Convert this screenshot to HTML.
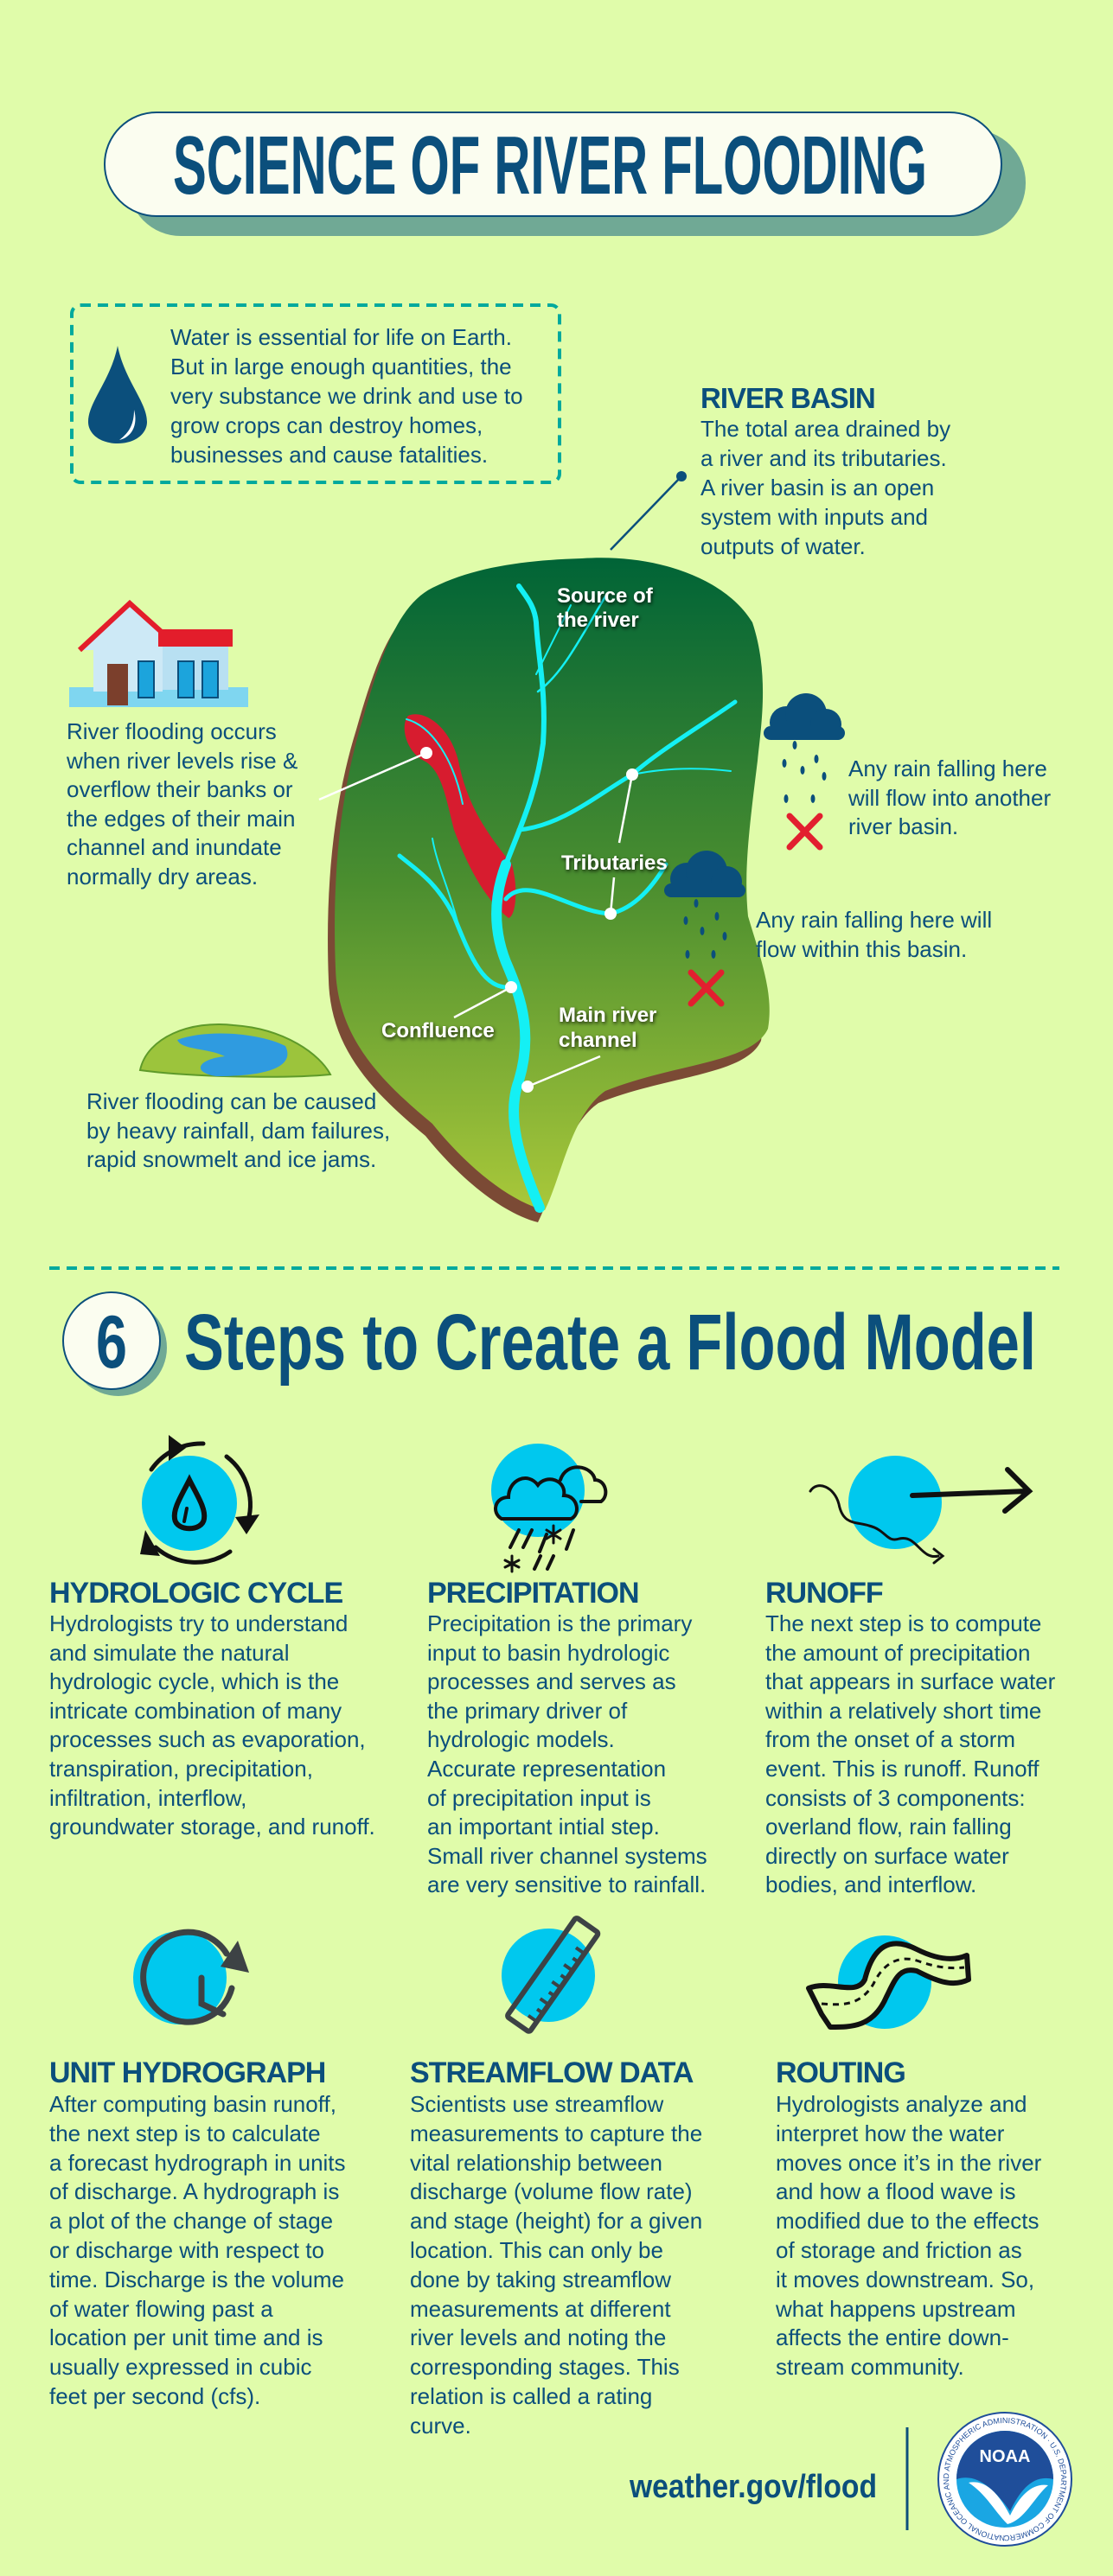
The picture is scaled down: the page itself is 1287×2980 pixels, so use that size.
<!DOCTYPE html>
<html><head><meta charset="utf-8"><style>
html,body{margin:0;padding:0;background:#e0fcaa;}
svg{display:block}
.b{font-family:"Liberation Sans",sans-serif;font-size:26px;fill:#0b4f7c}
.h{font-family:"Liberation Sans",sans-serif;font-size:34px;font-weight:bold;fill:#0b4f7c;letter-spacing:-1px}
.w{font-family:"Liberation Sans",sans-serif;font-size:24px;font-weight:bold;fill:#fff}
</style></head><body>
<svg width="1287" height="2980" viewBox="0 0 1287 2980" xmlns="http://www.w3.org/2000/svg">
<defs>
<linearGradient id="g" x1="0" y1="0" x2="0" y2="1"><stop offset="0" stop-color="#006437"/><stop offset="0.5" stop-color="#4b8e2f"/><stop offset="1" stop-color="#a9c83a"/></linearGradient>
<filter id="sh"><feDropShadow dx="1" dy="2" stdDeviation="2" flood-color="#000" flood-opacity="0.8"/></filter>
</defs>
<rect width="1287" height="2980" fill="#e0fcaa"/>
<!-- title -->
<rect x="148" y="150" width="1038" height="123" rx="61" fill="#70a995"/>
<rect x="121" y="130" width="1037" height="120" rx="60" fill="#fbfdf0" stroke="#0b4f7c" stroke-width="2"/>
<text x="200" y="224" font-family="Liberation Sans" font-weight="bold" font-size="96" fill="#0b4f7c" textLength="872" lengthAdjust="spacingAndGlyphs">SCIENCE OF RIVER FLOODING</text>
<!-- water box -->
<rect x="83" y="353" width="564" height="205" rx="10" fill="none" stroke="#00a99d" stroke-width="4" stroke-dasharray="12 8"/>
<path d="M136,400 C128,440 102,465 102,488 C102,502 116,513 136,513 C156,513 170,502 170,488 C170,465 144,440 136,400Z" fill="#0b4f7c"/>
<path d="M155,474 C160,492 152,506 138,509 C150,500 155,490 155,474Z" fill="#fff"/>
<text class="b" x="197" y="399">Water is essential for life on Earth.</text>
<text class="b" x="197" y="433">But in large enough quantities, the</text>
<text class="b" x="197" y="467">very substance we drink and use to</text>
<text class="b" x="197" y="501">grow crops can destroy homes,</text>
<text class="b" x="197" y="535">businesses and cause fatalities.</text>
<!-- river basin -->
<text class="h" x="810" y="472" style="font-size:33px">RIVER BASIN</text>
<text class="b" x="810" y="505">The total area drained by</text>
<text class="b" x="810" y="539">a river and its tributaries.</text>
<text class="b" x="810" y="573">A river basin is an open</text>
<text class="b" x="810" y="607">system with inputs and</text>
<text class="b" x="810" y="641">outputs of water.</text>
<line x1="788" y1="551" x2="706" y2="636" stroke="#0b4f7c" stroke-width="2.5"/>
<circle cx="788" cy="551" r="6" fill="#0b4f7c"/>
<!-- basin -->
<g>
<path transform="translate(-8,14)" d="M673,646 C760,640 840,670 870,720 C890,780 880,840 876,880 C866,960 860,1010 865,1060 C880,1110 895,1150 888,1190 C870,1230 780,1230 700,1262 C660,1290 650,1360 630,1400 C590,1390 540,1350 500,1300 C440,1250 390,1200 388,1120 C384,1020 392,920 420,830 C440,760 460,700 500,680 C550,655 610,648 673,646 Z" fill="#7b4a35"/>
<path d="M673,646 C760,640 840,670 870,720 C890,780 880,840 876,880 C866,960 860,1010 865,1060 C880,1110 895,1150 888,1190 C870,1230 780,1230 700,1262 C660,1290 650,1360 630,1400 C590,1390 540,1350 500,1300 C440,1250 390,1200 388,1120 C384,1020 392,920 420,830 C440,760 460,700 500,680 C550,655 610,648 673,646 Z" fill="url(#g)"/>
<path d="M472,828 C490,820 520,840 530,880 C540,930 560,960 592,1000 C600,1030 596,1060 588,1062 C560,1040 540,1000 525,960 C515,920 510,890 490,880 C470,870 462,840 472,828 Z" fill="#d71c2f"/>
<g fill="none" stroke="#14f0f4" stroke-linecap="round">
<path d="M624,1397 C600,1340 585,1290 600,1250 C615,1200 605,1160 588,1120 C570,1080 570,1040 585,1000" stroke-width="12"/>
<path d="M585,1000 C600,960 620,920 628,860 C632,800 622,760 620,720 C618,700 608,690 600,678" stroke-width="6"/>
<path d="M600,960 C650,955 690,920 731,896 C760,870 810,840 850,812" stroke-width="5"/>
<path d="M731,896 C770,888 810,888 845,892" stroke-width="2"/>
<path d="M622,800 C650,780 670,740 700,690" stroke-width="2.5"/>
<path d="M620,780 C640,740 650,720 660,700" stroke-width="2"/>
<path d="M585,1040 C610,1010 660,1055 706,1057 C735,1050 755,1025 770,1000" stroke-width="5"/>
<path d="M591,1142 C560,1145 545,1110 525,1060 C505,1020 480,1005 462,990" stroke-width="5"/>
<path d="M530,1070 C520,1030 505,1000 500,970" stroke-width="2"/>
<path d="M470,832 C500,840 525,880 535,930" stroke-width="2"/>
</g>
<g stroke="#fff" stroke-width="2.5"><line x1="493" y1="871" x2="369" y2="925"/><line x1="731" y1="896" x2="716" y2="975"/><line x1="710" y1="1015" x2="706" y2="1057"/><line x1="591" y1="1142" x2="525" y2="1177"/><line x1="610" y1="1257" x2="694" y2="1222"/></g>
<g fill="#fff"><circle cx="493" cy="871" r="7"/><circle cx="731" cy="896" r="7"/><circle cx="706" cy="1057" r="7"/><circle cx="591" cy="1142" r="7"/><circle cx="610" cy="1257" r="7"/></g>
<g filter="url(#sh)">
<text class="w" x="644" y="697">Source of</text><text class="w" x="644" y="725">the river</text>
<text class="w" x="649" y="1006">Tributaries</text>
<text class="w" x="441" y="1200">Confluence</text>
<text class="w" x="646" y="1182">Main river</text><text class="w" x="646" y="1211">channel</text>
</g>
</g>
<!-- house -->
<rect x="80" y="795" width="207" height="23" fill="#7fd6f0"/>
<rect x="108" y="740" width="80" height="60" fill="#cde9f6"/>
<path d="M92,752 L150,698 L210,752" fill="#cde9f6" stroke="#e31d2b" stroke-width="6"/>
<rect x="183" y="728" width="86" height="20" fill="#e31d2b"/>
<rect x="188" y="748" width="76" height="50" fill="#b8e0f2"/>
<rect x="124" y="768" width="24" height="48" fill="#7b3f2c"/>
<rect x="160" y="765" width="18" height="42" fill="#1ca4dc" stroke="#0b4f7c" stroke-width="2"/>
<rect x="206" y="765" width="18" height="42" fill="#1ca4dc" stroke="#0b4f7c" stroke-width="2"/>
<rect x="234" y="765" width="18" height="42" fill="#1ca4dc" stroke="#0b4f7c" stroke-width="2"/>
<text class="b" x="77" y="855">River flooding occurs</text>
<text class="b" x="77" y="889">when river levels rise &amp;</text>
<text class="b" x="77" y="922">overflow their banks or</text>
<text class="b" x="77" y="956">the edges of their main</text>
<text class="b" x="77" y="989">channel and inundate</text>
<text class="b" x="77" y="1023">normally dry areas.</text>
<!-- clouds -->
<g fill="#0b4f7c">
<circle cx="909" cy="836" r="19"/><circle cx="932" cy="826" r="24"/><circle cx="955" cy="838" r="18"/><rect x="883" y="840" width="94" height="16" rx="8"/>
<circle cx="794" cy="1017" r="19"/><circle cx="817" cy="1008" r="24"/><circle cx="840" cy="1020" r="18"/><rect x="768" y="1022" width="94" height="16" rx="8"/>
</g>
<g fill="#0b4f7c">
<ellipse cx="919" cy="862" rx="2.5" ry="5"/><ellipse cx="907" cy="883" rx="2.5" ry="5"/><ellipse cx="928" cy="891" rx="2.5" ry="5"/><ellipse cx="944" cy="878" rx="2.5" ry="5"/><ellipse cx="953" cy="898" rx="2.5" ry="5"/><ellipse cx="909" cy="924" rx="2.5" ry="5"/><ellipse cx="940" cy="924" rx="2.5" ry="5"/>
<ellipse cx="805" cy="1045" rx="2.5" ry="5"/><ellipse cx="793" cy="1065" rx="2.5" ry="5"/><ellipse cx="812" cy="1077" rx="2.5" ry="5"/><ellipse cx="829" cy="1060" rx="2.5" ry="5"/><ellipse cx="838" cy="1083" rx="2.5" ry="5"/><ellipse cx="795" cy="1104" rx="2.5" ry="5"/><ellipse cx="825" cy="1104" rx="2.5" ry="5"/>
</g>
<g stroke="#e21f2f" stroke-width="7" stroke-linecap="round"><path d="M913,944 L948,980 M948,944 L913,980"/><path d="M799,1125 L834,1161 M834,1125 L799,1161"/></g>
<text class="b" x="981" y="898">Any rain falling here</text>
<text class="b" x="981" y="932">will flow into another</text>
<text class="b" x="981" y="965">river basin.</text>
<text class="b" x="874" y="1073">Any rain falling here will</text>
<text class="b" x="874" y="1107">flow within this basin.</text>
<!-- lake -->
<path d="M162,1238 C170,1200 220,1180 270,1186 C330,1190 370,1220 382,1243 C330,1248 220,1246 162,1238Z" fill="#9cc43c" stroke="#5e9a2a" stroke-width="2"/>
<path d="M205,1203 C240,1190 300,1195 330,1210 C340,1230 320,1245 250,1245 C220,1240 230,1225 260,1222 C240,1212 210,1215 205,1203Z" fill="#2f9be0"/>
<text class="b" x="100" y="1283">River flooding can be caused</text>
<text class="b" x="100" y="1317">by heavy rainfall, dam failures,</text>
<text class="b" x="100" y="1350">rapid snowmelt and ice jams.</text>
<!-- divider -->
<line x1="57" y1="1467" x2="1225" y2="1467" stroke="#00a99d" stroke-width="4" stroke-dasharray="12 8"/>
<circle cx="137" cy="1559" r="56" fill="#70a995"/>
<circle cx="129" cy="1551" r="56" fill="#fbfdf0" stroke="#0b4f7c" stroke-width="2"/>
<text x="129" y="1582" text-anchor="middle" font-family="Liberation Sans" font-weight="bold" font-size="86" fill="#0b4f7c" textLength="36" lengthAdjust="spacingAndGlyphs">6</text>
<text x="213" y="1584" font-family="Liberation Sans" font-weight="bold" font-size="92" fill="#0b4f7c" textLength="985" lengthAdjust="spacingAndGlyphs">Steps to Create a Flood Model</text>
<!-- icons row1 -->
<circle cx="219" cy="1739" r="55" fill="#00c8ee"/>
<g fill="none" stroke="#111" stroke-width="5" stroke-linecap="round">
<path d="M219,1712 C210,1730 200,1745 202,1757 C204,1772 234,1772 236,1757 C238,1745 228,1730 219,1712Z" stroke-width="6"/>
<path d="M216,1745 L213,1760" stroke-width="4"/>
<path d="M175,1700 A70,70 0 0 1 235,1670"/><path d="M262,1685 A70,70 0 0 1 285,1765"/><path d="M266,1795 A70,70 0 0 1 180,1790"/>
</g>
<g fill="#111"><path d="M195,1660 L215,1675 L195,1690Z"/><path d="M272,1755 L300,1752 L285,1775Z"/><path d="M168,1770 L185,1800 L162,1798Z"/></g>
<circle cx="622" cy="1724" r="54" fill="#00c8ee"/>
<g fill="none" stroke="#111" stroke-width="4" stroke-linecap="round">
<path d="M580,1757 C568,1750 572,1732 588,1732 C588,1712 610,1702 622,1718 C632,1705 655,1712 652,1730 C668,1730 672,1752 660,1757 Z"/>
<path d="M648,1712 C655,1690 685,1695 688,1712 C700,1712 705,1730 695,1737 L672,1737"/>
<path d="M600,1770 L590,1790 M615,1770 L605,1790 M632,1775 L624,1795 M663,1770 L655,1792 M625,1800 L618,1815 M640,1800 L633,1815"/>
<path d="M640,1765 L640,1785 M632,1770 L648,1780 M648,1770 L632,1780 M592,1800 L592,1818 M584,1805 L600,1813 M600,1805 L584,1813" stroke-width="3"/>
</g>
<circle cx="1035" cy="1738" r="54" fill="#00c8ee"/>
<g fill="none" stroke="#111" stroke-linecap="round">
<path d="M937,1725 C945,1712 965,1720 970,1740 C975,1765 990,1760 1005,1765 C1025,1770 1025,1785 1040,1780 C1060,1775 1065,1805 1085,1800" stroke-width="3"/>
<path d="M1055,1730 L1188,1725 M1165,1700 L1190,1725 L1162,1748" stroke-width="6"/>
<path d="M1080,1792 L1090,1800 L1080,1808" stroke-width="3"/>
</g>
<text class="h" x="57" y="1854">HYDROLOGIC CYCLE</text>
<text class="h" x="494" y="1854">PRECIPITATION</text>
<text class="h" x="885" y="1854">RUNOFF</text>
<text class="b" x="57" y="1887">Hydrologists try to understand</text>
<text class="b" x="57" y="1921">and simulate the natural</text>
<text class="b" x="57" y="1954">hydrologic cycle, which is the</text>
<text class="b" x="57" y="1988">intricate combination of many</text>
<text class="b" x="57" y="2021">processes such as evaporation,</text>
<text class="b" x="57" y="2055">transpiration, precipitation,</text>
<text class="b" x="57" y="2089">infiltration, interflow,</text>
<text class="b" x="57" y="2122">groundwater storage, and runoff.</text>
<text class="b" x="494" y="1887">Precipitation is the primary</text>
<text class="b" x="494" y="1921">input to basin hydrologic</text>
<text class="b" x="494" y="1954">processes and serves as</text>
<text class="b" x="494" y="1988">the primary driver of</text>
<text class="b" x="494" y="2021">hydrologic models.</text>
<text class="b" x="494" y="2055">Accurate representation</text>
<text class="b" x="494" y="2089">of precipitation input is</text>
<text class="b" x="494" y="2122">an important intial step.</text>
<text class="b" x="494" y="2156">Small river channel systems</text>
<text class="b" x="494" y="2189">are very sensitive to rainfall.</text>
<text class="b" x="885" y="1887">The next step is to compute</text>
<text class="b" x="885" y="1921">the amount of precipitation</text>
<text class="b" x="885" y="1954">that appears in surface water</text>
<text class="b" x="885" y="1988">within a relatively short time</text>
<text class="b" x="885" y="2021">from the onset of a storm</text>
<text class="b" x="885" y="2055">event. This is runoff. Runoff</text>
<text class="b" x="885" y="2089">consists of 3 components:</text>
<text class="b" x="885" y="2122">overland flow, rain falling</text>
<text class="b" x="885" y="2156">directly on surface water</text>
<text class="b" x="885" y="2189">bodies, and interflow.</text>
<!-- icons row2 -->
<circle cx="208" cy="2288" r="54" fill="#00c8ee"/>
<g fill="none" stroke="#3d4245" stroke-width="7" stroke-linecap="round">
<path d="M268,2300 A52,52 0 1 1 262,2260"/>
<path d="M233,2288 L233,2318 L258,2330"/>
</g>
<path d="M275,2245 L288,2282 L255,2275Z" fill="#3d4245"/>
<circle cx="634" cy="2285" r="54" fill="#00c8ee"/>
<g transform="rotate(-55 640 2285)" fill="none" stroke="#3d4245" stroke-width="6">
<rect x="570" y="2268" width="140" height="32" rx="3"/>
<path d="M585,2300 L585,2288 M597,2300 L597,2292 M609,2300 L609,2288 M621,2300 L621,2292 M633,2300 L633,2288 M645,2300 L645,2292 M657,2300 L657,2288 M669,2300 L669,2292 M681,2300 L681,2288" stroke-width="4"/>
</g>
<circle cx="1023" cy="2293" r="54" fill="#00c8ee"/>
<g fill="none" stroke="#111" stroke-width="6" stroke-linejoin="round">
<path d="M935,2300 C960,2290 990,2310 1000,2290 C1010,2250 1030,2240 1060,2255 C1080,2265 1100,2270 1118,2262 L1120,2290 C1100,2300 1080,2290 1060,2280 C1040,2275 1035,2290 1025,2310 C1010,2345 985,2345 960,2345 L950,2330 Z" fill="#e0fcaa"/>
<path d="M950,2318 C975,2320 995,2320 1010,2295 C1022,2270 1040,2262 1060,2268 C1080,2275 1095,2278 1115,2276" stroke-width="3" stroke-dasharray="7 6"/>
</g>
<text class="h" x="57" y="2409">UNIT HYDROGRAPH</text>
<text class="h" x="474" y="2409">STREAMFLOW DATA</text>
<text class="h" x="897" y="2409">ROUTING</text>
<text class="b" x="57" y="2443">After computing basin runoff,</text>
<text class="b" x="57" y="2477">the next step is to calculate</text>
<text class="b" x="57" y="2511">a forecast hydrograph in units</text>
<text class="b" x="57" y="2544">of discharge. A hydrograph is</text>
<text class="b" x="57" y="2578">a plot of the change of stage</text>
<text class="b" x="57" y="2612">or discharge with respect to</text>
<text class="b" x="57" y="2646">time. Discharge is the volume</text>
<text class="b" x="57" y="2680">of water flowing past a</text>
<text class="b" x="57" y="2713">location per unit time and is</text>
<text class="b" x="57" y="2747">usually expressed in cubic</text>
<text class="b" x="57" y="2781">feet per second (cfs).</text>
<text class="b" x="474" y="2443">Scientists use streamflow</text>
<text class="b" x="474" y="2477">measurements to capture the</text>
<text class="b" x="474" y="2511">vital relationship between</text>
<text class="b" x="474" y="2544">discharge (volume flow rate)</text>
<text class="b" x="474" y="2578">and stage (height) for a given</text>
<text class="b" x="474" y="2612">location. This can only be</text>
<text class="b" x="474" y="2646">done by taking streamflow</text>
<text class="b" x="474" y="2680">measurements at different</text>
<text class="b" x="474" y="2713">river levels and noting the</text>
<text class="b" x="474" y="2747">corresponding stages. This</text>
<text class="b" x="474" y="2781">relation is called a rating</text>
<text class="b" x="474" y="2815">curve.</text>
<text class="b" x="897" y="2443">Hydrologists analyze and</text>
<text class="b" x="897" y="2477">interpret how the water</text>
<text class="b" x="897" y="2511">moves once it’s in the river</text>
<text class="b" x="897" y="2544">and how a flood wave is</text>
<text class="b" x="897" y="2578">modified due to the effects</text>
<text class="b" x="897" y="2612">of storage and friction as</text>
<text class="b" x="897" y="2646">it moves downstream. So,</text>
<text class="b" x="897" y="2680">what happens upstream</text>
<text class="b" x="897" y="2713">affects the entire down-</text>
<text class="b" x="897" y="2747">stream community.</text>
<!-- footer -->
<text x="728" y="2889" font-family="Liberation Sans" font-weight="bold" font-size="38" fill="#0b4f7c" textLength="286" lengthAdjust="spacingAndGlyphs">weather.gov/flood</text>
<line x1="1049" y1="2808" x2="1049" y2="2927" stroke="#0b4f7c" stroke-width="3"/>
<circle cx="1162" cy="2868" r="77" fill="#fff" stroke="#1f4e9a" stroke-width="2"/>
<circle cx="1162" cy="2868" r="56" fill="#1aa6e3"/>
<path d="M1106,2868 A56,56 0 0 1 1218,2868 C1195,2862 1180,2880 1168,2905 C1150,2880 1130,2860 1106,2868Z" fill="#1f4e9a"/>
<path d="M1120,2872 C1140,2868 1155,2885 1168,2910 C1180,2885 1195,2872 1212,2875 C1195,2890 1185,2915 1165,2920 C1150,2905 1140,2885 1120,2872Z" fill="#fff"/>
<text x="1162" y="2848" text-anchor="middle" font-family="Liberation Sans" font-weight="bold" font-size="20" fill="#fff">NOAA</text>
<path id="ring" d="M1162,2933 A65,65 0 1 1 1162.1,2933" fill="none"/>
<text font-family="Liberation Sans" font-size="9" fill="#1f4e9a"><textPath href="#ring">NATIONAL OCEANIC AND ATMOSPHERIC ADMINISTRATION · U.S. DEPARTMENT OF COMMERCE</textPath></text>
</svg>
</body></html>
